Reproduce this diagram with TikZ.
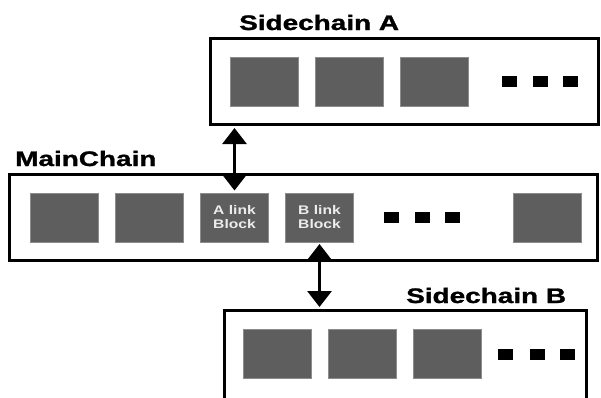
\documentclass[tikz,border=0pt]{standalone}
\usepackage{fontspec}
\usepackage{graphicx}
\setmainfont{Liberation Sans}
\newfontfamily\heavyfont[FakeBold=1.2]{Liberation Sans Bold}
\usepackage{tikz}
\usetikzlibrary{arrows.meta, positioning}
\definecolor{blockgray}{HTML}{5E5E5E}
\definecolor{blockedge}{HTML}{8C8C8C}
\definecolor{blocktext}{HTML}{ECECEC}
\newcommand{\widetext}[2][1.33]{\scalebox{#1}[1]{#2}}
\tikzset{
  chainbox/.style={rectangle, draw=black, line width=3pt, fill=white},
  chainlabel/.style={anchor=base west, inner sep=0pt, font=\fontsize{21}{25}\selectfont\heavyfont},
  block/.style={rectangle, minimum width=68pt, minimum height=49pt, inner sep=0pt, outer sep=0pt, fill=blockgray, draw=blockedge, line width=0.6pt},
  linkblock/.style={block, align=center, text=blocktext, font=\fontsize{12.5}{14}\selectfont\bfseries},
  dotbox/.style={rectangle, fill=black, minimum width=15pt, minimum height=11pt, inner sep=0pt, outer sep=0pt},
  linkarrow/.style={{Triangle[width=24pt,length=16pt]}-{Triangle[width=24pt,length=16pt]}, line width=3pt}
}
\begin{document}
\begin{tikzpicture}[x=1pt, y=-1pt]
        \useasboundingbox (0,0) rectangle (601,397);

        % Chains
        \node (chainA) [chainbox, minimum width=388pt, minimum height=86pt] at (404.5,81.5) {};
        \node (mainchain) [chainbox, minimum width=588pt, minimum height=86pt] at (303.5,217.5) {};
        \node (chainB) [chainbox, minimum width=362pt, minimum height=89pt] at (405.5,355) {};

        % Labels
        \node (lblA) [chainlabel] at (239,30) {\widetext{Sidechain A}};
        \node (lblMain) [chainlabel] at (15,166) {\widetext{MainChain}};
        \node (lblB) [chainlabel] at (406,303) {\widetext{Sidechain B}};

        % Sidechain A blocks
        \node (blkA1) [block] at (264,81.5) {};
        \node (blkA2) [block, right=17pt of blkA1] {};
        \node (blkA3) [block, right=17pt of blkA2] {};
        \node (dotA1) [dotbox] at (509.5,81.5) {};
        \node (dotA2) [dotbox] at (540.5,81.5) {};
        \node (dotA3) [dotbox] at (570.5,81.5) {};

        % Main chain blocks
        \node (blkM1) [block] at (64.5,217.5) {};
        \node (blkM2) [block, right=17pt of blkM1] {};
        \node (linkA) [linkblock, right=17pt of blkM2] {\widetext[1.25]{A link}\\\widetext[1.25]{Block}};
        \node (linkB) [linkblock, right=17pt of linkA] {\widetext[1.25]{B link}\\\widetext[1.25]{Block}};
        \node (dotM1) [dotbox] at (391.5,217.5) {};
        \node (dotM2) [dotbox] at (422.5,217.5) {};
        \node (dotM3) [dotbox] at (452.5,217.5) {};
        \node (blkM5) [block] at (547.5,217.5) {};

        % Sidechain B blocks
        \node (blkB1) [block] at (277.5,353.5) {};
        \node (blkB2) [block, right=17pt of blkB1] {};
        \node (blkB3) [block, right=17pt of blkB2] {};
        \node (dotB1) [dotbox] at (505.5,354) {};
        \node (dotB2) [dotbox] at (537,354) {};
        \node (dotB3) [dotbox] at (567,354) {};

        % Paths
        \draw [linkarrow, shorten <=2pt, shorten >=2.5pt] (chainA.south -| linkA.north) -- (linkA.north);
        \draw [linkarrow, shorten <=2pt, shorten >=2pt] (linkB.south) -- (chainB.north -| linkB.south);
\end{tikzpicture}
\end{document}
